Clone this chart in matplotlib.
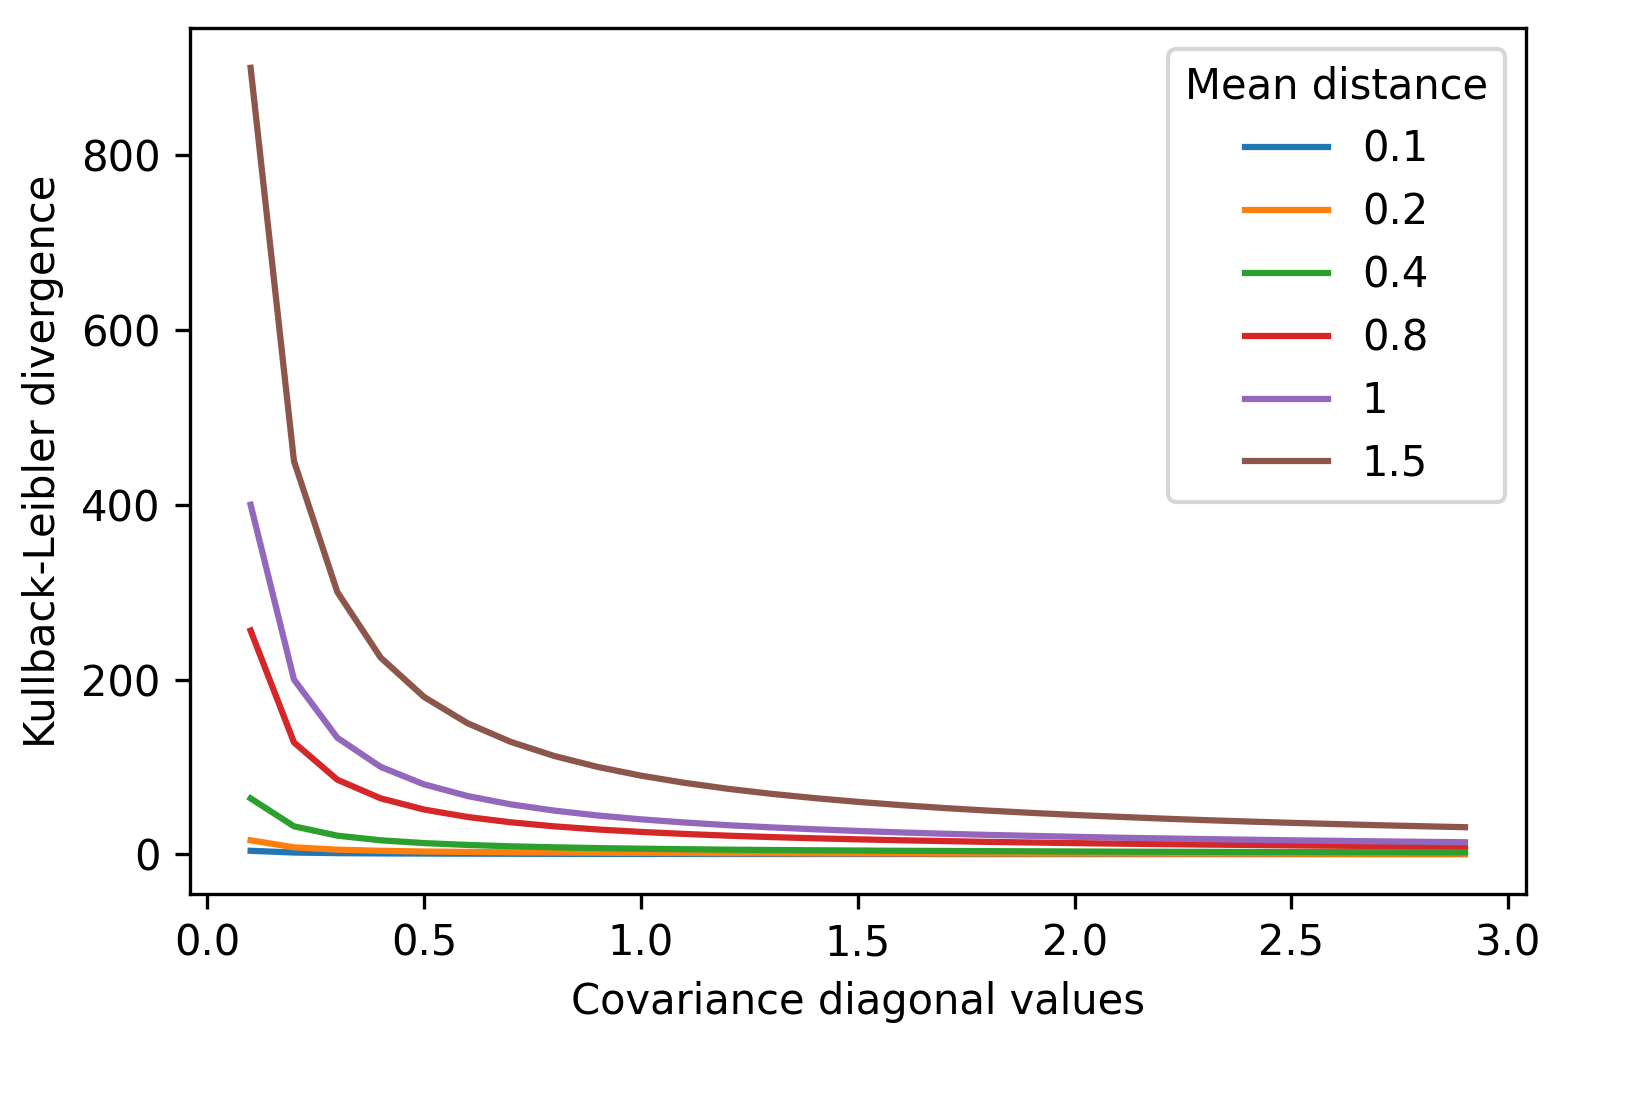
import matplotlib
matplotlib.use("Agg")
import matplotlib.pyplot as plt

cov_diag = [0.1, 0.2, 0.3, 0.4, 0.5, 0.6, 0.7, 0.8, 0.9, 1.0, 1.1, 1.2, 1.3, 1.4, 1.5,
            1.6, 1.7, 1.8, 1.9, 2.0, 2.1, 2.2, 2.3, 2.4, 2.5, 2.6, 2.7, 2.8, 2.9]

mean_distances = ["0.1", "0.2", "0.4", "0.8", "1", "1.5"]

kl_01 = [4, 2, 1.3, 1, 0.8, 0.7, 0.6, 0.5, 0.4, 0.4, 0.4, 0.3, 0.3, 0.3, 0.3,
         0.3, 0.2, 0.2, 0.2, 0.2, 0.2, 0.2, 0.2, 0.2, 0.2, 0.2, 0.1, 0.1, 0.1]
kl_02 = [16, 8, 5.3, 4, 3.2, 2.7, 2.3, 2, 1.8, 1.6, 1.5, 1.3, 1.2, 1.1, 1.1,
         1.0, 0.9, 0.9, 0.8, 0.8, 0.8, 0.7, 0.7, 0.7, 0.6, 0.6, 0.6, 0.6, 0.6]
kl_04 = [64, 32, 21.3, 16, 12.8, 10.7, 9.1, 8, 7.1, 6.4, 5.8, 5.3, 4.9, 4.6, 4.3,
         4, 3.8, 3.6, 3.4, 3.2, 3.0, 2.9, 2.8, 2.7, 2.6, 2.5, 2.4, 2.3, 2.2]
kl_08 = [256, 128, 85.3, 64, 51.2, 42.7, 36.6, 32, 28.4, 25.6, 23.3, 21.3, 19.7, 18.3, 17.1,
         16, 15.1, 14.2, 13.5, 12.8, 12.2, 11.6, 11.1, 10.7, 10.2, 9.8, 9.5, 9.1, 8.8]
kl_1 = [400, 200, 133.3, 100, 80, 66.7, 57.1, 50, 44.4, 40, 36.4, 33.3, 30.8, 28.6, 26.7,
        25, 23.5, 22.2, 21.1, 20, 19.0, 18.2, 17.4, 16.7, 16, 15.4, 14.8, 14.3, 13.8]
kl_15 = [900, 450, 300, 225, 180, 150, 128.6, 112.5, 100, 90, 81.8, 75, 69.2, 64.3, 60,
         56.25, 52.9, 50, 47.4, 45, 42.9, 40.9, 39.1, 37.5, 36, 34.6, 33.3, 32.1, 31.0]

series = [kl_01, kl_02, kl_04, kl_08, kl_1, kl_15]

fig, ax = plt.subplots(figsize=(1637 / 300, 1095 / 300), dpi=300)
fig.subplots_adjust(left=0.116, right=0.932, top=0.974, bottom=0.184)

for label, values in zip(mean_distances, series):
    ax.plot(cov_diag, values, label=label)

ax.set_xlabel("Covariance diagonal values")
ax.set_ylabel("Kullback-Leibler divergence")
ax.legend(title="Mean distance", loc="upper right")

fig.savefig("out.png", dpi=300)
